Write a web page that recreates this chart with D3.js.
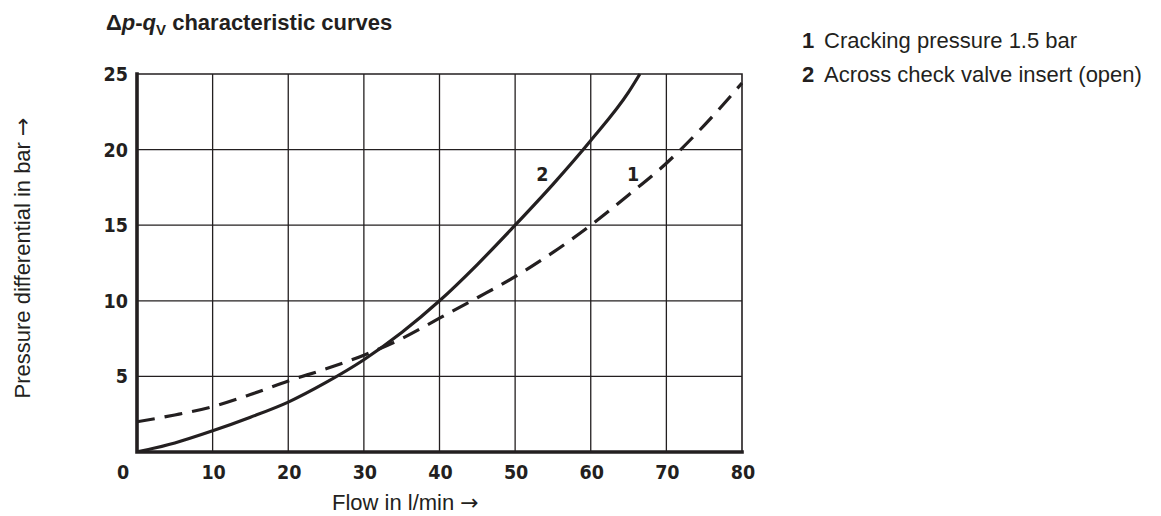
<!DOCTYPE html>
<html>
<head>
<meta charset="utf-8">
<script src="https://cdn.jsdelivr.net/npm/d3@7"></script>
<style>
  html, body { margin: 0; padding: 0; background: #fff; }
  svg { display: block; }
</style>
</head>
<body>
<svg id="chart" width="1161" height="516"></svg>
<script>
// ---- data ----
const xTicks = [0, 10, 20, 30, 40, 50, 60, 70, 80];
const yTicks = [5, 10, 15, 20, 25];
// curve 2: across check valve insert (open) - solid
const flow2 = [0, 5, 10, 15, 20, 25, 30, 35, 40, 45, 50, 55, 60, 65, 66.5];
const dp2   = [0, 0.6, 1.4, 2.3, 3.3, 4.6, 6.1, 7.9, 10, 12.4, 15, 17.7, 20.6, 23.8, 25];
// curve 1: cracking pressure 1.5 bar - dashed
const flow1 = [0, 5, 10, 15, 20, 25, 30, 35, 40, 45, 50, 55, 60, 65, 70, 75, 80];
const dp1   = [2.0, 2.45, 3.0, 3.8, 4.7, 5.5, 6.4, 7.5, 8.85, 10.2, 11.6, 13.2, 15, 17, 19.1, 21.6, 24.4];
const legendNums = ["1", "2"];
const legendTexts = ["Cracking pressure 1.5 bar", "Across check valve insert (open)"];
const xLabel = "Flow in l/min ";
const yLabel = "Pressure differential in bar ";
const arrow = "\u2192";

// ---- layout ----
const svg = d3.select("#chart");
const x = d3.scaleLinear().domain([0, 80]).range([137, 742]);
const y = d3.scaleLinear().domain([0, 25]).range([452, 74]);
const ink = "#231f20";
const tickFont = "'DejaVu Sans Condensed', 'DejaVu Sans', sans-serif";
const textFont = "'Liberation Sans', Arial, sans-serif";
const arrowFont = "'DejaVu Sans', sans-serif";

// grid
const g = svg.append("g");
g.selectAll("line.v").data(xTicks.filter(d => d > 0 && d < 80)).join("line")
  .attr("x1", d => x(d)).attr("x2", d => x(d))
  .attr("y1", y(0)).attr("y2", y(25))
  .attr("stroke", ink).attr("stroke-width", 1.3);
g.selectAll("line.h").data(yTicks.filter(d => d < 25)).join("line")
  .attr("x1", x(0)).attr("x2", x(80))
  .attr("y1", d => y(d)).attr("y2", d => y(d))
  .attr("stroke", ink).attr("stroke-width", 1.3);
// top and right border
g.append("path")
  .attr("d", `M${x(0)},${y(25)}H${x(80)}V${y(0)}`)
  .attr("fill", "none").attr("stroke", ink).attr("stroke-width", 1.6);
// left and bottom axes (thick)
g.append("path")
  .attr("d", `M${x(0)},${y(25)}V${y(0)}H${x(80)}`)
  .attr("fill", "none").attr("stroke", ink).attr("stroke-width", 3.6)
  .attr("stroke-linecap", "square");

// curves
const line = d3.line().x(d => x(d[0])).y(d => y(d[1])).curve(d3.curveMonotoneX);
svg.append("clipPath").attr("id", "clip")
  .append("rect").attr("x", x(0)).attr("y", y(25) - 1)
  .attr("width", x(80) - x(0) + 1).attr("height", y(0) - y(25) + 1);
svg.append("path")
  .datum(flow2.map((f, i) => [f, dp2[i]]))
  .attr("d", line).attr("fill", "none").attr("stroke", ink)
  .attr("stroke-width", 3.2).attr("clip-path", "url(#clip)");
svg.append("path")
  .datum(flow1.map((f, i) => [f, dp1[i]]))
  .attr("d", line).attr("fill", "none").attr("stroke", ink)
  .attr("stroke-width", 3.2).attr("stroke-dasharray", "18,10")
  .attr("clip-path", "url(#clip)");

// curve labels
[["2", 53.6], ["1", 65.6]].forEach(([t, fx]) => {
  svg.append("text").attr("x", x(fx)).attr("y", y(17.9))
    .attr("font-family", tickFont).attr("font-weight", "bold").attr("font-size", 19.5)
    .attr("text-anchor", "middle").attr("fill", ink).text(t);
});

// x tick labels
svg.append("g").selectAll("text").data(xTicks).join("text")
  .attr("x", d => d === 0 ? x(0) - 14 : x(d) + 1)
  .attr("y", 479)
  .attr("text-anchor", "middle")
  .attr("font-family", tickFont).attr("font-weight", "bold").attr("font-size", 19.5)
  .attr("fill", ink).text(d => d);
// y tick labels
svg.append("g").selectAll("text").data(yTicks).join("text")
  .attr("x", 128)
  .attr("y", d => y(d) + 7)
  .attr("text-anchor", "end")
  .attr("font-family", tickFont).attr("font-weight", "bold").attr("font-size", 19.5)
  .attr("fill", ink).text(d => d);

// axis titles
const xl = svg.append("text").attr("x", 332).attr("y", 510)
  .attr("font-family", textFont).attr("font-size", 22).attr("fill", ink);
xl.append("tspan").text(xLabel);
xl.append("tspan").attr("font-family", arrowFont).text(arrow);

const yl = svg.append("text").attr("transform", "translate(30,258) rotate(-90)")
  .attr("text-anchor", "middle")
  .attr("font-family", textFont).attr("font-size", 22).attr("fill", ink);
yl.append("tspan").text(yLabel);
yl.append("tspan").attr("font-family", arrowFont).text(arrow);

// title
const title = svg.append("text").attr("x", 106).attr("y", 30)
  .attr("font-family", textFont).attr("font-weight", "bold").attr("font-size", 22).attr("fill", ink);
title.append("tspan").text("\u0394");
title.append("tspan").attr("font-style", "italic").text("p");
title.append("tspan").text("-");
title.append("tspan").attr("font-style", "italic").text("q");
title.append("tspan").attr("font-size", 15).attr("dy", 5).text("V");
title.append("tspan").attr("dy", -5).text(" characteristic curves");

// legend
const leg = svg.append("g");
legendTexts.forEach((t, i) => {
  const ty = 48 + i * 34;
  leg.append("text").attr("x", 802).attr("y", ty)
    .attr("font-family", textFont).attr("font-weight", "bold").attr("font-size", 22)
    .attr("fill", ink).text(legendNums[i]);
  leg.append("text").attr("x", 824).attr("y", ty)
    .attr("font-family", textFont).attr("font-size", 22)
    .attr("fill", ink).text(t);
});
</script>
</body>
</html>
